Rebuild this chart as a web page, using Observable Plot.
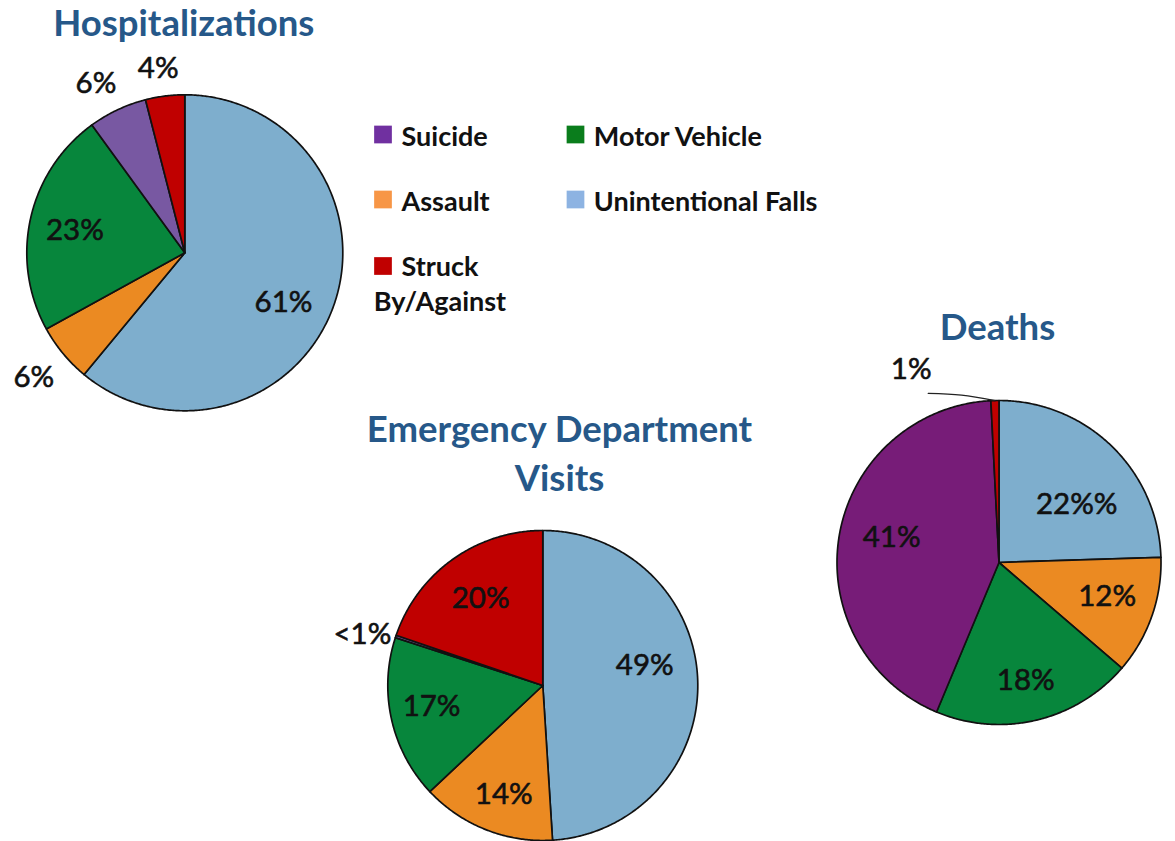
<!DOCTYPE html>
<html><head><meta charset="utf-8">
<script src="https://cdn.jsdelivr.net/npm/d3@7"></script>
<script src="https://cdn.jsdelivr.net/npm/@observablehq/plot@0.6"></script>
<style>html,body{margin:0;padding:0;background:#fff;overflow:hidden}</style>
</head><body><div id="chart"></div>
<script>
// ---- data ----
const categories = ["Unintentional Falls", "Assault", "Motor Vehicle", "Suicide", "Struck By/Against"];
const hospValues = [61, 6, 23, 6, 4];
const hospLabels = ["61%", "6%", "23%", "6%", "4%"];
const edValues = [49, 14, 17, 0.25, 19.75];
const edLabels = ["49%", "14%", "17%", "<1%", "20%"];
const deathValues = [24.5, 11.8, 20, 42.9, 0.8];
const deathLabels = ["22%%", "12%", "18%", "41%", "1%"];
const titles = ["Hospitalizations", "Emergency Department", "Visits", "Deaths"];
const legendNames = ["Suicide", "Motor Vehicle", "Assault", "Unintentional Falls", "Struck", "By/Against"];

// ---- styles & layout ----
const sliceColors = {
  "Unintentional Falls": "#7eaecd", "Assault": "#eb8a22", "Motor Vehicle": "#07863c",
  "Suicide": "#7858a2", "Struck By/Against": "#c00000"
};
const deathSuicideColor = "#771c78";
const legendColors = {
  "Suicide": "#7030a0", "Motor Vehicle": "#0a7d1c", "Assault": "#f79646",
  "Unintentional Falls": "#8db3e2", "Struck By/Against": "#c00000"
};
const titleColor = "#265889";
const FONT = "Lato, 'Open Sans', sans-serif";

const pies = [
  {id: "hosp", values: hospValues, labels: hospLabels, cx: 184.3, cy: 252.3, r: 158,
   nudge: [7, 0, -1, -2.5, -1], k: [0.70, 1.24, 0.71, 1.21, 1.18]},
  {id: "ed", values: edValues, labels: edLabels, cx: 542.3, cy: 685, r: 155,
   nudge: [-9, -2, 2, -2.6, 0], k: [0.67, 0.75, 0.73, 1.21, 0.69]},
  {id: "deaths", values: deathValues, labels: deathLabels, cx: 998.5, cy: 562, r: 162,
   nudge: [9, -2, 0.6, 3, -23], k: [0.60, 0.70, 0.75, 0.68, 1.31]}
];

const titleLayout = [
  {x: 183.3, y: 23.5}, {x: 559, y: 430.2}, {x: 559, y: 478.5}, {x: 997, y: 327.8}
];
const legendLayout = [
  {sx: 382.5, sy: 134, tx: 401, ty: 136.5, cat: "Suicide"},
  {sx: 575, sy: 134, tx: 593.3, ty: 136.5, cat: "Motor Vehicle"},
  {sx: 382.5, sy: 199, tx: 401, ty: 201.5, cat: "Assault"},
  {sx: 575, sy: 199, tx: 593.3, ty: 201.5, cat: "Unintentional Falls"},
  {sx: 382.5, sy: 265.5, tx: 401, ty: 267.2, cat: "Struck By/Against"},
  {sx: null, sy: null, tx: 373.3, ty: 302, cat: null}
];

// ---- build geometry ----
const slicePoints = [];
const labelRows = [];
let leader = [];
const pieGen = d3.pie().sort(null).value(d => d);
for (const p of pies) {
  const arcs = pieGen(p.values);
  arcs.forEach((a, i) => {
    const cat = categories[i];
    let fill = sliceColors[cat];
    if (p.id === "deaths" && cat === "Suicide") fill = deathSuicideColor;
    const id = p.id + "-" + i;
    const pts = [{x: p.cx, y: p.cy}];
    const n = Math.max(2, Math.ceil((a.endAngle - a.startAngle) / (Math.PI / 360)));
    for (let j = 0; j <= n; j++) {
      const t = a.startAngle + (a.endAngle - a.startAngle) * j / n;
      pts.push({x: p.cx + p.r * Math.sin(t), y: p.cy - p.r * Math.cos(t)});
    }
    pts.push({x: p.cx, y: p.cy});
    for (const q of pts) slicePoints.push({...q, id, fill});
    const mid = (a.startAngle + a.endAngle) / 2 + p.nudge[i] * Math.PI / 180;
    const lr = p.r * p.k[i];
    const lx = p.cx + lr * Math.sin(mid), ly = p.cy - lr * Math.cos(mid);
    labelRows.push({x: lx, y: ly, text: p.labels[i]});
    if (p.id === "deaths" && i === 4) {
      const am = (a.startAngle + a.endAngle) / 2;
      const ex = p.cx + p.r * Math.sin(am), ey = p.cy - p.r * Math.cos(am);
      const sx = lx + 17, sy = ly + 24;
      leader = [{x: sx, y: sy}, {x: (sx + ex) / 2, y: sy + 1.8}, {x: ex, y: ey}];
    }
  });
}

const titleRows = titles.map((t, i) => ({text: t, ...titleLayout[i]}));
const legendRows = legendNames.map((t, i) => ({text: t, ...legendLayout[i]}));
const legendSquares = legendRows.filter(d => d.cat).map(d => ({x: d.sx, y: d.sy, fill: legendColors[d.cat]}));

const chart = Plot.plot({
  width: 1175, height: 841, margin: 0,
  x: {domain: [0, 1175], axis: null},
  y: {domain: [0, 841], reverse: true, axis: null},
  color: {type: "identity"},
  style: {background: "#fff", fontFamily: FONT},
  marks: [
    Plot.line(slicePoints, {x: "x", y: "y", z: "id", fill: "fill", stroke: "#111", strokeWidth: 1.7, strokeLinejoin: "round"}),
    Plot.line(leader, {x: "x", y: "y", curve: "catmull-rom", stroke: "#222", strokeWidth: 1.3}),
    Plot.text(labelRows, {x: "x", y: "y", text: "text", fontSize: 29.5, fill: "#111", stroke: "#111", strokeWidth: 0.6, fontFamily: FONT}),
    Plot.text(titleRows, {x: "x", y: "y", text: "text", fontSize: 36.5, fontWeight: "bold", fill: titleColor, fontFamily: FONT}),
    Plot.dot(legendSquares, {x: "x", y: "y", symbol: "square", r: 10, fill: "fill", stroke: null}),
    Plot.text(legendRows, {x: "tx", y: "ty", text: "text", textAnchor: "start", fontSize: 27, fontWeight: "bold", fill: "#111", fontFamily: FONT})
  ]
});
document.getElementById("chart").append(chart);
</script>
</body></html>
